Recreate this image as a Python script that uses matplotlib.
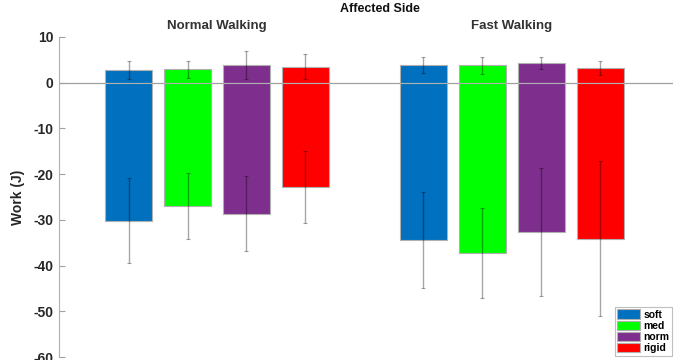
import numpy as np
import matplotlib
matplotlib.use("Agg")
import matplotlib.pyplot as plt

plt.rcParams['font.family'] = ['Liberation Sans', 'DejaVu Sans']
plt.rcParams['axes.unicode_minus'] = False

conditions = ["soft", "med", "norm", "rigid"]
colors = ["#0070BF", "#00FF00", "#7E2F8E", "#FF0000"]
groups = ["Normal Walking", "Fast Walking"]

# positive work (J) and SD, per group, per condition
pos_mean = [[2.8, 2.9, 3.8, 3.5], [3.9, 3.8, 4.3, 3.2]]
pos_sd = [[2.0, 1.9, 3.1, 2.8], [1.8, 1.8, 1.4, 1.5]]
# negative work (J) and SD
neg_mean = [[-30.2, -26.9, -28.7, -22.8], [-34.4, -37.3, -32.7, -34.1]]
neg_sd = [[9.3, 7.2, 8.2, 7.8], [10.5, 9.8, 14.0, 16.9]]

fig = plt.figure(figsize=(6.81, 3.6), dpi=100)
ax = fig.add_axes([0.0866, 0.0083, 0.9014, 0.889])

group_offsets = [0, 5]
width = 0.8
handles = []
for g, off in enumerate(group_offsets):
    x = np.arange(4) + off
    for i in range(4):
        b = ax.bar(x[i], pos_mean[g][i], width, color=colors[i],
                   edgecolor="#b0b0b0", linewidth=0.8, zorder=2)
        ax.bar(x[i], neg_mean[g][i], width, color=colors[i],
               edgecolor="#b0b0b0", linewidth=0.8, zorder=2)
        if g == 0:
            handles.append(b)
    ax.errorbar(x, pos_mean[g], yerr=pos_sd[g], fmt="none", ecolor="k",
                alpha=0.35, elinewidth=1.0, capsize=1.5, capthick=0.8, zorder=3)
    ax.errorbar(x, neg_mean[g], yerr=neg_sd[g], fmt="none", ecolor="k",
                alpha=0.35, elinewidth=1.0, capsize=1.5, capthick=0.8, zorder=3)

ax.axhline(0, color="#a0a0a0", linewidth=0.9, zorder=1)
ax.set_xlim(-1.18, 9.23)
ax.set_ylim(-60, 10)
ax.set_yticks(np.arange(-60, 11, 10))
for lab in ax.get_yticklabels():
    lab.set_fontweight("bold")
ax.tick_params(axis="y", direction="in", length=4, color="#a0a0a0",
               labelsize=10, labelcolor="#262626", pad=4)
ax.set_xticks([])
for s in ["top", "right", "bottom"]:
    ax.spines[s].set_visible(False)
ax.spines["left"].set_color("#b0b0b0")
ax.set_ylabel("Work (J)", fontsize=10, fontweight="bold", color="#262626", labelpad=6)

fig.text(0.558, 0.975, "Affected Side", ha="center", va="center",
         fontsize=9, fontweight="bold", color="#111111")
for g, off in enumerate(group_offsets):
    ax.text(off + 1.5, 1.033, groups[g], transform=ax.get_xaxis_transform(),
            ha="center", va="center", fontsize=9.5, fontweight="bold",
            color="#333333", clip_on=False)

leg = ax.legend(handles, conditions, loc="lower right",
                prop={"weight": "bold", "size": 7.5},
                handlelength=2.2, handleheight=1.0, handletextpad=0.3,
                labelspacing=0.1, borderpad=0.25, borderaxespad=0.1,
                frameon=True, fancybox=False, edgecolor="#b0b0b0")
leg.get_frame().set_linewidth(0.8)

fig.savefig("out.png", dpi=100)
